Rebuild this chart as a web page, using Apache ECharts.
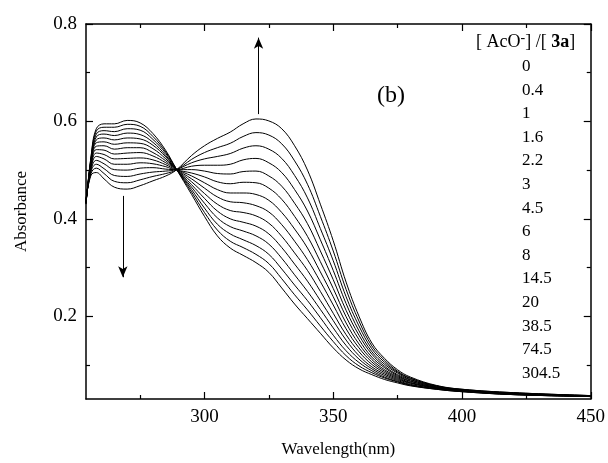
<!DOCTYPE html>
<html><head><meta charset="utf-8">
<script src="https://cdn.jsdelivr.net/npm/echarts@6/dist/echarts.min.js"></script>
<style>html,body{margin:0;padding:0;background:#fff}#c{width:608px;height:463px}</style>
</head><body><div id="c"></div>
<script>
const wavelengths = [254,256,258,261,265,270,275,280,285,289,295,300,305,310,315,320,325,330,335,340,345,350,355,360,365,370,375,380,390,400,420,450];
const ratios = ['0','0.4','1','1.6','2.2','3','4.5','6','8','14.5','20','38.5','74.5','304.5'];
const s0  = [0.430,0.530,0.585,0.595,0.595,0.602,0.597,0.575,0.540,0.503,0.450,0.405,0.365,0.340,0.325,0.310,0.290,0.258,0.225,0.195,0.165,0.135,0.110,0.092,0.080,0.070,0.063,0.057,0.050,0.045,0.039,0.035];
const s1  = [0.431,0.528,0.580,0.588,0.588,0.594,0.590,0.569,0.537,0.503,0.455,0.413,0.377,0.354,0.341,0.327,0.308,0.277,0.244,0.213,0.180,0.148,0.119,0.098,0.084,0.073,0.065,0.058,0.050,0.045,0.039,0.035];
const s2  = [0.431,0.525,0.574,0.581,0.579,0.585,0.582,0.563,0.534,0.503,0.460,0.422,0.389,0.369,0.357,0.345,0.327,0.297,0.264,0.232,0.197,0.161,0.129,0.105,0.088,0.075,0.066,0.059,0.051,0.046,0.039,0.035];
const s3  = [0.432,0.523,0.568,0.574,0.571,0.576,0.573,0.557,0.530,0.502,0.465,0.432,0.402,0.384,0.375,0.365,0.348,0.319,0.285,0.251,0.214,0.176,0.140,0.112,0.092,0.078,0.068,0.060,0.051,0.046,0.040,0.035];
const s4  = [0.433,0.520,0.562,0.566,0.562,0.566,0.564,0.551,0.527,0.502,0.470,0.442,0.416,0.400,0.393,0.385,0.369,0.341,0.307,0.272,0.232,0.191,0.151,0.119,0.096,0.081,0.070,0.062,0.052,0.046,0.040,0.036];
const s5  = [0.433,0.517,0.556,0.558,0.553,0.556,0.555,0.544,0.523,0.502,0.476,0.452,0.430,0.417,0.413,0.406,0.391,0.364,0.330,0.294,0.251,0.206,0.162,0.127,0.101,0.084,0.072,0.063,0.053,0.047,0.040,0.036];
const s6  = [0.434,0.514,0.549,0.550,0.543,0.546,0.546,0.536,0.519,0.502,0.482,0.463,0.445,0.435,0.433,0.427,0.414,0.388,0.354,0.316,0.271,0.223,0.174,0.135,0.106,0.087,0.074,0.064,0.053,0.047,0.041,0.036];
const s7  = [0.435,0.511,0.542,0.541,0.533,0.535,0.536,0.529,0.515,0.502,0.488,0.474,0.460,0.453,0.453,0.450,0.438,0.413,0.379,0.340,0.291,0.240,0.186,0.143,0.111,0.090,0.076,0.066,0.054,0.047,0.041,0.036];
const s8  = [0.436,0.508,0.535,0.532,0.523,0.524,0.525,0.521,0.511,0.501,0.494,0.486,0.476,0.472,0.475,0.474,0.463,0.440,0.405,0.364,0.312,0.257,0.199,0.152,0.116,0.094,0.078,0.067,0.054,0.048,0.041,0.036];
const s9  = [0.436,0.505,0.528,0.523,0.512,0.512,0.515,0.513,0.507,0.501,0.501,0.498,0.493,0.492,0.497,0.498,0.488,0.467,0.432,0.390,0.334,0.275,0.212,0.161,0.122,0.097,0.080,0.069,0.055,0.048,0.042,0.036];
const s10 = [0.437,0.501,0.520,0.513,0.501,0.500,0.504,0.505,0.502,0.501,0.508,0.510,0.510,0.512,0.521,0.524,0.515,0.495,0.460,0.416,0.357,0.294,0.226,0.170,0.127,0.101,0.083,0.070,0.056,0.049,0.042,0.036];
const s11 = [0.438,0.498,0.512,0.503,0.489,0.487,0.492,0.496,0.498,0.501,0.515,0.523,0.528,0.534,0.545,0.550,0.543,0.524,0.489,0.443,0.380,0.314,0.240,0.180,0.133,0.105,0.085,0.072,0.057,0.049,0.042,0.037];
const s12 = [0.439,0.494,0.504,0.493,0.477,0.474,0.480,0.487,0.493,0.500,0.522,0.536,0.546,0.555,0.569,0.577,0.572,0.554,0.519,0.471,0.405,0.334,0.255,0.190,0.139,0.109,0.087,0.073,0.057,0.050,0.043,0.037];
const s13 = [0.440,0.490,0.495,0.482,0.465,0.461,0.468,0.478,0.488,0.500,0.530,0.550,0.565,0.578,0.595,0.605,0.601,0.585,0.550,0.500,0.430,0.355,0.270,0.200,0.145,0.113,0.090,0.075,0.058,0.050,0.043,0.037];
const allSeries = [s0,s1,s2,s3,s4,s5,s6,s7,s8,s9,s10,s11,s12,s13];
const xMajor = [300,350,400,450];
const xMinor = [275,325,375,425];
const yMajor = [0.2,0.4,0.6,0.8];
const yMinor = [0.1,0.3,0.5,0.7];
const upArrow = [[321,0.615],[321,0.772]];
const downArrow = [[268.3,0.447],[268.3,0.28]];

const FONT = '"Liberation Serif","Times New Roman",serif';
const chart = echarts.init(document.getElementById('c'), null, {renderer:'canvas'});
const XMIN=254, XMAX=450, YMIN=0.03, YMAX=0.8;
function xAx(pos, ticks, len, showLine, showLabel, extra){
  return Object.assign({type:'value', min:XMIN, max:XMAX, position:pos,
    axisLine:{show:showLine, onZero:false, lineStyle:{color:'#000', width:1.5}},
    axisTick:{show:true, inside:true, length:len, customValues:ticks, lineStyle:{color:'#000', width:1.2}},
    axisLabel:{show:showLabel, customValues:xMajor, color:'#000', fontFamily:FONT, fontSize:19, margin:9},
    splitLine:{show:false}}, extra||{});
}
function yAx(pos, ticks, len, showLine, showLabel, extra){
  return Object.assign({type:'value', min:YMIN, max:YMAX, position:pos,
    axisLine:{show:showLine, onZero:false, lineStyle:{color:'#000', width:1.5}},
    axisTick:{show:true, inside:true, length:len, customValues:ticks, lineStyle:{color:'#000', width:1.2}},
    axisLabel:{show:showLabel, customValues:yMajor, color:'#000', fontFamily:FONT, fontSize:19, margin:9, formatter:v=>v.toFixed(1)},
    splitLine:{show:false}}, extra||{});
}
const series = allSeries.map((arr,i)=>({
  name: ratios[i], type:'line', xAxisIndex:0, yAxisIndex:0,
  data: wavelengths.map((w,j)=>[w,arr[j]]),
  showSymbol:false, smooth:0.4,
  lineStyle:{color:'#000', width:1}, silent:true, animation:false
}));
series[0].markLine = {
  silent:true, animation:false, symbol:['none','arrow'], symbolSize:[7,11],
  label:{show:false}, lineStyle:{color:'#000', width:1, type:'solid'},
  data:[
    [{coord:upArrow[0]},{coord:upArrow[1]}],
    [{coord:downArrow[0]},{coord:downArrow[1]}]
  ]
};
const legendLines = ratios.map((r,i)=>({
  type:'text', left:522, top:58 + i*23.6,
  style:{text:r, fill:'#000', font:'17px '+FONT}
}));
chart.setOption({
  animation:false,
  backgroundColor:'#fff',
  grid:{left:86, right:16, top:24, bottom:64, containLabel:false},
  xAxis:[
    xAx('bottom', xMajor, 7, true, true, {name:'Wavelength(nm)', nameLocation:'middle', nameGap:42,
      nameTextStyle:{color:'#000', fontFamily:FONT, fontSize:17}}),
    xAx('bottom', xMinor, 4, false, false),
    xAx('top', xMajor, 7, true, false),
    xAx('top', xMinor, 4, false, false)
  ],
  yAxis:[
    yAx('left', yMajor, 7, true, true, {name:'Absorbance', nameLocation:'middle', nameGap:56, nameRotate:90,
      nameTextStyle:{color:'#000', fontFamily:FONT, fontSize:17}}),
    yAx('left', yMinor, 4, false, false),
    yAx('right', yMajor, 7, true, false),
    yAx('right', yMinor, 4, false, false)
  ],
  series: series,
  graphic:[
    {type:'text', left:377, top:84, style:{text:'(b)', fill:'#000', font:'24px '+FONT}},
    {type:'text', left:476, top:31, style:{
      text:'[ AcO{sup|-}] /[ {b|3a}]', fill:'#000', font:'18px '+FONT,
      rich:{sup:{fontSize:14, fontFamily:FONT, fill:'#000', verticalAlign:'top', padding:[0,0,8,0]},
            b:{fontWeight:'bold', fontSize:18, fontFamily:FONT, fill:'#000'}}
    }}
  ].concat(legendLines)
});
</script></body></html>
